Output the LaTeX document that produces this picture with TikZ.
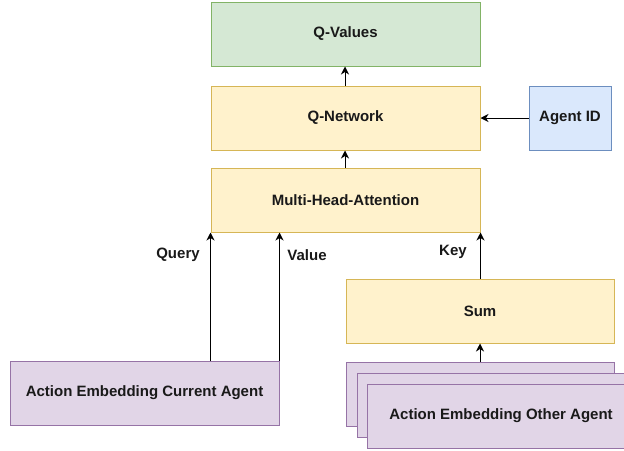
\documentclass[tikz,border=0pt]{standalone}
\usepackage{fontspec}
\setmainfont{Liberation Sans}
\usetikzlibrary{arrows.meta}

\definecolor{greenfill}{HTML}{D5E8D4}
\definecolor{greenline}{HTML}{82B366}
\definecolor{yellowfill}{HTML}{FFF2CC}
\definecolor{yellowline}{HTML}{D6B656}
\definecolor{bluefill}{HTML}{DAE8FC}
\definecolor{blueline}{HTML}{6C8EBF}
\definecolor{purplefill}{HTML}{E1D5E7}
\definecolor{purpleline}{HTML}{9673A6}

\tikzset{
  box/.style={draw, line width=1pt, minimum height=64pt, inner sep=0pt,
    font=\fontsize{15}{18}\selectfont\bfseries, text=black!90},
  greenbox/.style={box, fill=greenfill, draw=greenline},
  yellowbox/.style={box, fill=yellowfill, draw=yellowline},
  bluebox/.style={box, fill=bluefill, draw=blueline},
  purplebox/.style={box, fill=purplefill, draw=purpleline},
  flow/.style={line width=1pt, -{Stealth[length=8pt,width=8pt,inset=2.5pt]}},
  tag/.style={font=\fontsize{15}{18}\selectfont\bfseries, text=black!90}
}

\begin{document}
\begin{tikzpicture}[x=1pt, y=-1pt]
  \useasboundingbox (0,0) rectangle (624,450);
  \clip (0,0) rectangle (624,450);

  % main stack
  \node[greenbox,  minimum width=269pt] (qv)  at (345.5,34)  {Q-Values};
  \node[yellowbox, minimum width=269pt] (qn)  at (345.5,118) {Q-Network};
  \node[yellowbox, minimum width=269pt] (mha) at (345.5,200) {Multi-Head-Attention};
  \node[bluebox,   minimum width=82pt]  (aid) at (570,118)   {Agent ID};

  % inputs
  \node[purplebox, minimum width=269pt] (cur) at (144.5,393) {Action Embedding Current Agent};
  \node[yellowbox, minimum width=268pt] (sum) at (480,311)   {Sum};

  % stacked embeddings of the other agents
  \node[purplebox, minimum width=268pt] (oth3) at (480,394) {};
  \node[purplebox, minimum width=268pt] (oth2) at (491,405) {};
  \node[purplebox, minimum width=268pt] (oth1) at (501,416) {Action Embedding Other Agent};

  % connectors
  \draw[flow] (qn.north -| 345,0) -- (qv.south -| 345,0);
  \draw[flow] (mha.north -| 345,0) -- (qn.south -| 345,0);
  \draw[flow] (aid.west) -- (qn.east);
  \draw[flow] (cur.north -| mha.south west) -- (mha.south west);
  \draw[flow] (cur.north east) -- (cur.north east |- mha.south);
  \draw[flow] (sum.north -| mha.south east) -- (mha.south east);
  \draw[flow] (oth3.north) -- (sum.south);

  % connector labels
  \node[tag] (lq) at (178,255) {Query};
  \node[tag] (lv) at (307,255) {Value};
  \node[tag] (lk) at (453,252) {Key};
\end{tikzpicture}
\end{document}
